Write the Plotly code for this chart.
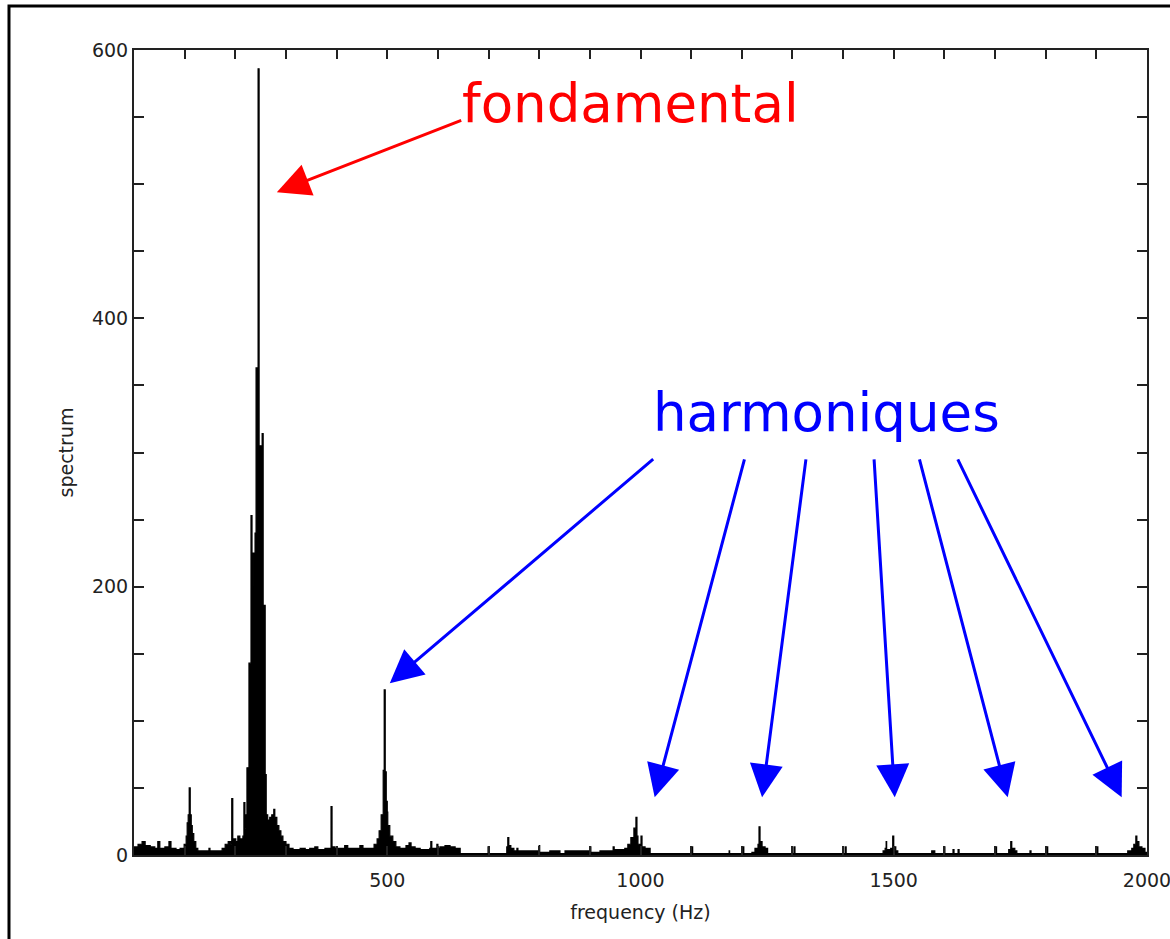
import plotly.graph_objects as go

freq_hz = [
    0, 8, 16, 22, 32, 41, 47, 51, 61, 69, 73, 83, 91, 99, 103, 105, 107, 109, 111, 113,
    115, 118, 122, 126, 148, 150, 174, 180, 186, 191, 193, 195, 201, 205, 209, 215, 217, 219,
    221, 223, 227, 231, 233, 235, 239, 241, 245, 247, 249, 251, 253, 255, 259, 261, 264, 268,
    272, 276, 278, 282, 286, 290, 294, 300, 306, 314, 328, 338, 347, 357, 363, 377, 387, 389,
    391, 397, 416, 422, 446, 452, 474, 480, 484, 488, 492, 494, 496, 498, 500, 501, 505, 511,
    517, 525, 537, 543, 547, 555, 565, 584, 586, 588, 598, 600, 604, 614, 624, 634, 644, 699,
    701, 736, 738, 740, 744, 750, 756, 758, 794, 800, 801, 821, 841, 851, 890, 900, 902, 920,
    944, 946, 948, 969, 975, 981, 987, 991, 993, 995, 999, 1001, 1003, 1009, 1019, 1101, 1103,
    1175, 1176, 1202, 1204, 1220, 1226, 1232, 1234, 1236, 1240, 1246, 1251, 1303, 1305, 1404,
    1406, 1479, 1483, 1485, 1486, 1494, 1498, 1500, 1504, 1508, 1575, 1581, 1599, 1601, 1617,
    1619, 1627, 1629, 1702, 1703, 1727, 1731, 1733, 1739, 1743, 1769, 1771, 1802, 1804, 1901,
    1903, 1962, 1970, 1974, 1978, 1980, 1984, 1990, 1996, 2000,
]
spectrum = [
    6, 8, 10, 7, 6, 5, 10, 5, 6, 10, 5, 4, 5, 8, 14, 24, 30, 50, 30, 22,
    16, 10, 5, 3, 5, 3, 5, 8, 10, 8, 42, 12, 10, 14, 12, 14, 39, 20,
    30, 65, 143, 253, 200, 225, 240, 363, 586, 300, 305, 290, 314, 186, 60, 30, 26, 28,
    30, 34, 28, 22, 18, 14, 10, 8, 5, 4, 5, 4, 5, 6, 4, 5, 4, 36,
    6, 5, 7, 5, 7, 5, 8, 12, 18, 30, 63, 123, 62, 40, 32, 22, 14, 10,
    6, 5, 7, 9, 6, 5, 4, 5, 10, 5, 8, 5, 6, 7, 6, 5, 1, 6,
    1, 6, 13, 7, 5, 3, 5, 3, 3, 7, 2, 3, 1, 3, 3, 6, 2, 3,
    3, 6, 4, 5, 8, 13, 20, 28, 14, 8, 6, 14, 6, 5, 1, 6, 1,
    3, 1, 6, 1, 2, 5, 8, 21, 10, 6, 5, 1, 6, 1, 6,
    1, 3, 5, 10, 4, 5, 14, 6, 3, 1, 3, 1, 6, 1, 4,
    1, 4, 1, 6, 1, 4, 10, 5, 3, 1, 3, 1, 6, 1, 6,
    1, 3, 5, 8, 14, 10, 6, 5, 2, 2,
]

x_tick_vals = [500, 1000, 1500, 2000]
y_tick_vals = [0, 200, 400, 600]

# annotation anchors (data coordinates)
fond_label = ("fondamental", 981, 560)
fond_arrow = (282, 494, 649, 548)          # tip x, tip y, tail x, tail y
harm_label = ("harmoniques", 1368, 330)
harm_arrows = [
    (505, 128, 1028, 296),
    (1028, 43, 1206, 296),
    (1240, 43, 1327, 296),
    (1502, 43, 1461, 296),
    (1725, 43, 1550, 296),
    (1950, 43, 1625, 296),
]

fig = go.Figure()
fig.add_trace(go.Scatter(
    x=freq_hz, y=spectrum, mode="lines",
    line=dict(shape="hv", color="black", width=1.2),
    fill="tozeroy", fillcolor="black", hoverinfo="skip", showlegend=False,
))

axis_font = dict(family="DejaVu Sans", size=19, color="#222")

fig.update_xaxes(
    range=[0, 2000.01], tickmode="array", tickvals=x_tick_vals,
    ticks="inside", ticklen=9, tickwidth=2, tickcolor="#222",
    minor=dict(dtick=100, ticks="inside", ticklen=9, tickwidth=2, tickcolor="#222"),
    showline=True, linewidth=2, linecolor="#222", mirror="ticks",
    showgrid=False, zeroline=False, tickfont=axis_font, automargin=False,
    ticklabeloverflow="allow", ticklabelstandoff=7,
    title=dict(text="frequency (Hz)", font=axis_font, standoff=16),
)
fig.update_yaxes(
    range=[0, 600], tickmode="array", tickvals=y_tick_vals,
    ticks="inside", ticklen=10, tickwidth=2, tickcolor="#222",
    minor=dict(dtick=50, ticks="inside", ticklen=10, tickwidth=2, tickcolor="#222"),
    showline=True, linewidth=2, linecolor="#222", mirror="ticks",
    showgrid=False, zeroline=False, tickfont=axis_font, automargin=False,
    title=dict(text="spectrum", font=axis_font, standoff=13),
)

annotations = []
annotations.append(dict(
    x=fond_label[1], y=fond_label[2], xref="x", yref="y", text=fond_label[0],
    showarrow=False, font=dict(family="DejaVu Sans", size=53, color="red"),
))
annotations.append(dict(
    x=fond_arrow[0], y=fond_arrow[1], ax=fond_arrow[2], ay=fond_arrow[3],
    xref="x", yref="y", axref="x", ayref="y", text="",
    showarrow=True, arrowhead=2, arrowwidth=3, arrowsize=2.2, arrowcolor="red",
))
annotations.append(dict(
    x=harm_label[1], y=harm_label[2], xref="x", yref="y", text=harm_label[0],
    showarrow=False, font=dict(family="DejaVu Sans", size=53, color="blue"),
))
for tx, ty, sx, sy in harm_arrows:
    annotations.append(dict(
        x=tx, y=ty, ax=sx, ay=sy, xref="x", yref="y", axref="x", ayref="y", text="",
        showarrow=True, arrowhead=2, arrowwidth=3, arrowsize=2.2, arrowcolor="blue",
    ))

fig.update_layout(
    width=1170, height=939,
    margin=dict(l=134, r=23, t=50, b=84),
    paper_bgcolor="white", plot_bgcolor="white",
    annotations=annotations,
    shapes=[dict(
        type="rect", xref="paper", yref="paper",
        x0=-0.1234, x1=1.2, y0=-0.3, y1=1.0547,
        line=dict(color="black", width=3), fillcolor="rgba(0,0,0,0)", layer="above",
    )],
)

fig.write_html("out.html", config={"displayModeBar": False},
               post_script="document.body.style.margin='0';")
